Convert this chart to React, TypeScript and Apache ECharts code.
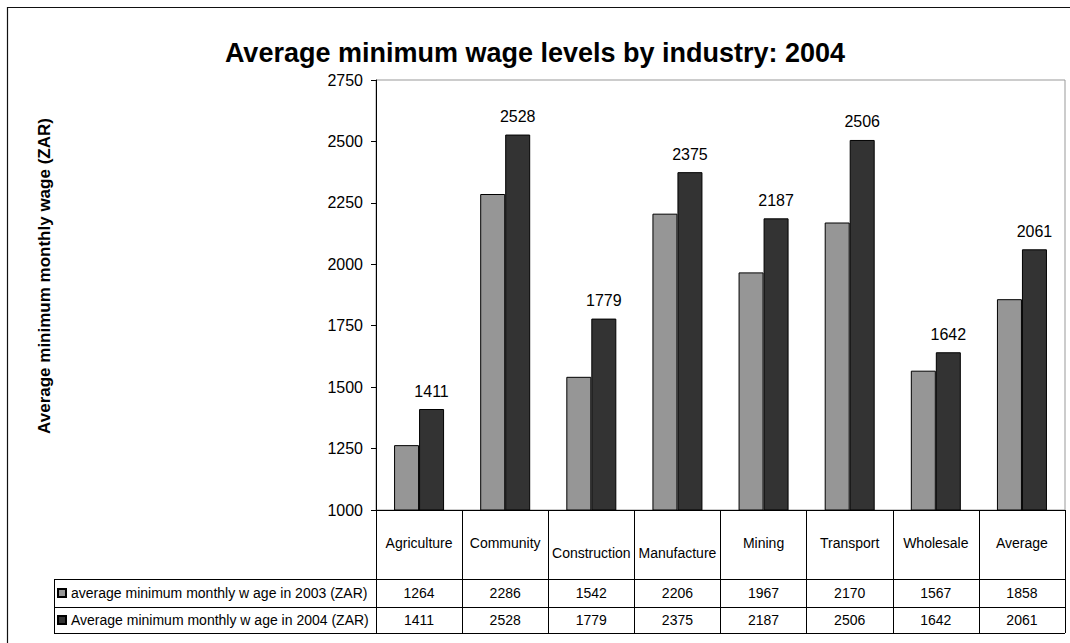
import React, { useEffect, useRef } from "react";
import * as echarts from "echarts";

const TITLE = "Average minimum wage levels by industry: 2004";
const Y_TITLE = "Average minimum monthly wage (ZAR)";
const categories = ["Agriculture", "Community", "Construction", "Manufacture", "Mining", "Transport", "Wholesale", "Average"];
const SERIES_2003 = "average minimum monthly w age in 2003 (ZAR)";
const SERIES_2004 = "Average minimum monthly w age in 2004 (ZAR)";
const wage2003 = [1264, 2286, 1542, 2206, 1967, 2170, 1567, 1858];
const wage2004 = [1411, 2528, 1779, 2375, 2187, 2506, 1642, 2061];
const yMin = 1000;
const yMax = 2750;
const yStep = 250;
const lowCats = ["Construction", "Manufacture"];

const FONT = "'Liberation Sans', Arial, sans-serif";

export default function App() {
  const ref = useRef<HTMLDivElement>(null);
  useEffect(() => {
    if (!ref.current) return;
    const chart = echarts.init(ref.current, null, { renderer: "svg" });
    const tableLeft = 54;
    const tableRight = 1064;
    const hLines = [579, 607, 633];
    const graphic: any[] = [
      {
        type: "rect",
        shape: { x: 7.5, y: 7.5, width: 1200, height: 800 },
        style: { fill: "none", stroke: "#111", lineWidth: 1.2 },
        silent: true,
      },
      ...hLines.map((y) => ({
        type: "line",
        shape: { x1: tableLeft, y1: y + 0.5, x2: tableRight + 1, y2: y + 0.5 },
        style: { stroke: "#000", lineWidth: 1 },
        silent: true,
      })),
      {
        type: "line",
        shape: { x1: tableLeft + 0.5, y1: hLines[0], x2: tableLeft + 0.5, y2: hLines[2] + 1 },
        style: { stroke: "#000", lineWidth: 1 },
        silent: true,
      },
      {
        type: "text",
        x: 44,
        y: 276,
        rotation: Math.PI / 2,
        style: {
          text: Y_TITLE,
          font: `bold 17px ${FONT}`,
          fill: "#000",
          textAlign: "center",
          textVerticalAlign: "middle",
        },
        silent: true,
      },
    ];

    const option: any = {
      animation: false,
      textStyle: { fontFamily: FONT },
      title: {
        text: TITLE,
        left: "center",
        top: 34,
        textStyle: { fontSize: 27, fontWeight: "bold", color: "#000", fontFamily: FONT },
      },
      legend: {
        orient: "vertical",
        left: 57,
        top: 586,
        padding: 0,
        itemWidth: 8,
        itemHeight: 8,
        itemGap: 13,
        icon: "rect",
        selectedMode: false,
        textStyle: { fontSize: 14, lineHeight: 14, color: "#000", fontFamily: FONT },
        data: [SERIES_2003, SERIES_2004],
      },
      grid: {
        left: 376,
        right: 5,
        top: 80,
        bottom: 133,
        show: true,
        borderColor: "#999",
        borderWidth: 1,
        backgroundColor: "transparent",
      },
      xAxis: [
        {
          type: "category",
          position: "bottom",
          data: categories,
          axisLine: { show: true, lineStyle: { color: "#000", width: 1 } },
          axisTick: { show: true, length: 123, interval: 0, lineStyle: { color: "#000", width: 1 } },
          axisLabel: {
            interval: 0,
            margin: 25,
            fontSize: 14,
            lineHeight: 16,
            color: "#000",
            formatter: (v: string) => (lowCats.includes(v) ? `{low|${v}}` : v),
            rich: { low: { fontSize: 14, lineHeight: 36, color: "#000" } },
          },
        },
        {
          type: "category",
          position: "bottom",
          data: wage2003.map(String),
          axisLine: { show: false },
          axisTick: { show: false },
          axisLabel: { interval: 0, margin: 75, fontSize: 14, lineHeight: 16, color: "#000" },
        },
        {
          type: "category",
          position: "bottom",
          data: wage2004.map(String),
          axisLine: { show: false },
          axisTick: { show: false },
          axisLabel: { interval: 0, margin: 102, fontSize: 14, lineHeight: 16, color: "#000" },
        },
      ],
      yAxis: {
        type: "value",
        min: yMin,
        max: yMax,
        interval: yStep,
        axisLine: { show: true, lineStyle: { color: "#000", width: 1 } },
        axisTick: { show: true, inside: false, length: 5, lineStyle: { color: "#000" } },
        axisLabel: { fontSize: 16, color: "#000", margin: 13, formatter: (v: number) => String(v) },
        splitLine: { show: false },
      },
      series: [
        {
          name: SERIES_2003,
          type: "bar",
          xAxisIndex: 0,
          data: wage2003,
          barWidth: 25,
          barGap: "0%",
          itemStyle: { color: "#969696", borderColor: "#000", borderWidth: 1 },
        },
        {
          name: SERIES_2004,
          type: "bar",
          xAxisIndex: 0,
          data: wage2004,
          barWidth: 25,
          barGap: "0%",
          itemStyle: { color: "#333333", borderColor: "#000", borderWidth: 1 },
          label: { show: true, position: "top", distance: 10, fontSize: 16, color: "#000" },
        },
      ],
      graphic,
    };
    chart.setOption(option);
    return () => chart.dispose();
  }, []);
  return (
    <div
      ref={ref}
      style={{ position: "fixed", left: 0, top: 0, width: 1070, height: 643, background: "#fff" }}
    />
  );
}
